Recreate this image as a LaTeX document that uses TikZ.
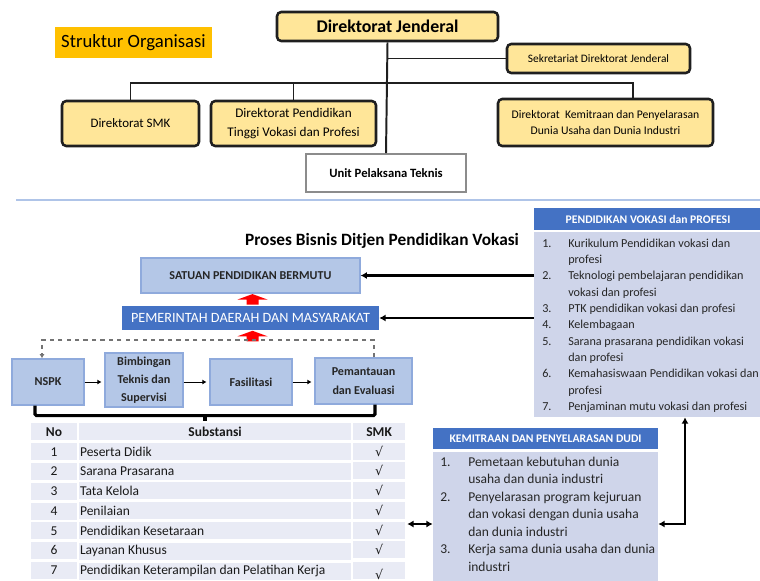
\documentclass[tikz,border=0pt]{standalone}
\usepackage{fontspec}
\setmainfont{Carlito}
\newfontfamily\symfont{DejaVu Sans}
\usetikzlibrary{arrows.meta,calc,matrix}

\definecolor{orgorange}{HTML}{FFC000}
\definecolor{orgyellow}{HTML}{FFE699}
\definecolor{orgline}{HTML}{1F1F1F}
\definecolor{procblue}{HTML}{B4C7E7}
\definecolor{procline}{HTML}{8FAADC}
\definecolor{headblue}{HTML}{4472C4}
\definecolor{panelblue}{HTML}{CFD5EA}
\definecolor{cellblue}{HTML}{E9EBF5}
\definecolor{rulecol}{HTML}{AFC4E8}

\tikzset{
  wh/.style 2 args={minimum width=#1*0.025cm, minimum height=#2*0.025cm},
  orgbox/.style={draw=orgline, line width=1.8pt, rounded corners=3pt, fill=orgyellow,
    inner sep=0pt, align=center},
  orgedge/.style={draw=orgline, line width=1.4pt},
  procbox/.style={draw=procline, line width=0.8pt, fill=procblue, inner sep=0pt,
    align=center, text=black!85, font=\bfseries\fontsize{8.6}{12.8}\selectfont},
  headbox/.style={fill=headblue, inner sep=0pt, text=white},
  panel/.style={fill=panelblue, inner sep=0pt},
  listtext/.style={inner sep=0pt, anchor=north west, text=black!85},
  cell/.style={fill=cellblue, draw=white, line width=1.5pt, outer sep=0pt,
    inner xsep=0.05cm, inner ysep=0pt, minimum height=19.1*0.025cm,
    text=black!90, font=\fontsize{9.6}{11}\selectfont},
  thinarrow/.style={-{Latex[length=3pt,width=3.5pt]}, line width=0.7pt, shorten >=2pt},
  feedarrow/.style={line width=1.5pt},
  loopline/.style={dashed, draw=black!55, line width=0.8pt, -{Latex[length=3pt,width=3.5pt]}},
  bracket/.style={line width=2.2pt, rounded corners=1pt},
  redup/.pic={\fill[red] (-6,5) -- (-6,0) -- (-15,0) -- (0,-5.5) -- (15,0) -- (6,0) -- (6,5) -- cycle;}
}

\begin{document}
\begin{tikzpicture}[x=0.025cm, y=-0.025cm, >={Latex[length=4.5pt,width=5pt]}]
\useasboundingbox (0,0) rectangle (760,580);

\node[fill=orgorange, wh={157}{31}, inner sep=0pt, font=\fontsize{13.3}{15}\selectfont] (struk) at (133.5,42.5) {Struktur Organisasi};
\node[orgbox, wh={221}{29}, font=\bfseries\fontsize{12.7}{14}\selectfont] (dj) at (387.5,26.5) {Direktorat Jenderal};
\node[orgbox, wh={183}{29}, font=\fontsize{8.1}{10}\selectfont] (sekr) at (598.5,58.5) {Sekretariat Direktorat Jenderal};
\node[orgbox, wh={137}{45}, font=\fontsize{9.2}{12}\selectfont] (smk) at (130.5,123.5) {Direktorat SMK};
\node[orgbox, wh={165}{45}, font=\fontsize{9.4}{13}\selectfont] (dptvp) at (293.5,123.5) {Direktorat Pendidikan\\Tinggi Vokasi dan Profesi};
\node[orgbox, wh={215}{47}, font=\fontsize{8.3}{12}\selectfont] (dkp) at (605.5,122.5) {Direktorat\ \ Kemitraan dan Penyelarasan\\Dunia Usaha dan Dunia Industri};
\node[draw=black!45, line width=1.2pt, fill=white, wh={160}{38}, inner sep=0pt, font=\bfseries\fontsize{9}{11}\selectfont] (upt) at (386,173) {Unit Pelaksana Teknis};

\coordinate (barend) at (633,83);
\draw[orgedge] (dj.south) -- (upt.north);
\draw[orgedge] (dj.south |- sekr.west) -- (sekr.west);
\draw[orgedge] (smk.north) |- (barend) -- (barend |- dkp.north);
\draw[orgedge] (dptvp.north) -- (dptvp.north |- barend);

\draw[rulecol, line width=1.5pt] (16,200) -- (760,200);

\node[inner sep=0pt, font=\bfseries\fontsize{12.3}{14}\selectfont] (title) at (382,241) {Proses Bisnis Ditjen Pendidikan Vokasi};
\node[procbox, wh={219}{35}] (spb) at (250.5,275.5) {SATUAN PENDIDIKAN BERMUTU};
\node[headbox, wh={257}{24}, font=\fontsize{10.1}{11}\selectfont] (pdm) at (250.5,318) {PEMERINTAH DAERAH DAN MASYARAKAT};
\pic at ($(spb.south)+(2,6)$) {redup};
\pic at ($(pdm.south)+(2,6)$) {redup};

\node[procbox, wh={72}{46}] (nspk) at (48,382) {NSPK};
\node[procbox, wh={78}{54}] (bts) at (144,380) {Bimbingan\\Teknis dan\\Supervisi};
\node[procbox, wh={82}{46}] (fas) at (251,382) {Fasilitasi};
\node[procbox, wh={97}{46}, font=\bfseries\fontsize{8.6}{13.5}\selectfont] (pev) at (363.5,381) {Pemantauan\\dan Evaluasi};
\draw[thinarrow] (nspk.east) -- (bts.west |- nspk.east);
\draw[thinarrow] (bts.east |- fas.west) -- (fas.west);
\draw[thinarrow] (fas.east) -- (pev.west |- fas.east);

\coordinate (loopc) at (42,340);
\draw[loopline] ($(pev.north)+(10.5,0)$) |- (loopc) -- (loopc |- nspk.north);

\draw[bracket] ($(nspk.south)+(-13,0)$) -- ++(0,10) -| ($(pev.south)+(11.5,0)$);
\draw[bracket] (205,415) -- ++(0,6);

\matrix (tbl) [matrix of nodes, anchor=north west, inner sep=0pt, outer sep=0pt,
  row sep=-1.5pt, column sep=-1.5pt,
  nodes={cell},
  column 1/.style={nodes={minimum width=48*0.025cm}},
  column 2/.style={nodes={minimum width=274*0.025cm, text width=6.75cm, align=left,
    execute at begin node={\spaceskip=0pt\xspaceskip=0pt}}},
  column 3/.style={nodes={minimum width=54*0.025cm}},
  row 1/.style={nodes={font=\bfseries\fontsize{9.6}{11}\selectfont}}]
  at (29,421) {
  No & |[align=center]| Substansi & SMK \\
  1 & Peserta Didik & {\symfont\small √} \\
  2 & Sarana Prasarana & {\symfont\small √} \\
  3 & Tata Kelola & {\symfont\small √} \\
  4 & Penilaian & {\symfont\small √} \\
  5 & Pendidikan Kesetaraan & {\symfont\small √} \\
  6 & Layanan Khusus & {\symfont\small √} \\
  7 & Pendidikan Keterampilan dan Pelatihan Kerja & \raisebox{-3pt}[0.6em][0pt]{\symfont\small √} \\
};

\node[headbox, wh={228}{22}, font=\bfseries\fontsize{8.3}{10}\selectfont] (pvphead) at (648,219) {PENDIDIKAN VOKASI dan PROFESI};
\node[panel, wh={228}{185}] (pvpbody) at (648,324.5) {};
\node[listtext, font=\fontsize{8.65}{11.6}\selectfont] (pvplist) at (542,235.5) {%
\begin{tabular}{@{}p{0.65cm}@{}l@{}}
1. & Kurikulum Pendidikan vokasi dan\\
   & profesi\\
2. & Teknologi pembelajaran pendidikan\\
   & vokasi dan profesi\\
3. & PTK pendidikan vokasi dan profesi\\
4. & Kelembagaan\\
5. & Sarana prasarana pendidikan vokasi\\
   & dan profesi\\
6. & Kemahasiswaan Pendidikan vokasi dan\\
   & profesi\\
7. & Penjaminan mutu vokasi dan profesi
\end{tabular}};

\node[headbox, wh={225}{21}, font=\bfseries\fontsize{8.3}{10}\selectfont] (kpdhead) at (545.5,438.5) {KEMITRAAN DAN PENYELARASAN DUDI};
\node[panel, wh={225}{130}] (kpdbody) at (545.5,517) {};
\node[listtext, font=\fontsize{9.6}{12.4}\selectfont] (kpdlist) at (440,454) {%
\begin{tabular}{@{}p{0.7cm}@{}l@{}}
1. & Pemetaan kebutuhan dunia\\
   & usaha dan dunia industri\\
2. & Penyelarasan program kejuruan\\
   & dan vokasi dengan dunia usaha\\
   & dan dunia industri\\
3. & Kerja sama dunia usaha dan dunia\\
   & industri
\end{tabular}};

\coordinate (linky) at (0,524);
\draw[feedarrow, ->] (spb.east -| pvpbody.west) -- (spb.east);
\draw[feedarrow, ->] (pdm.east -| pvpbody.west) -- (pdm.east);
\draw[feedarrow, <->] (tbl.east |- linky) -- (kpdbody.west |- linky);
\draw[feedarrow, <->] (kpdbody.east |- linky) -| ($(pvpbody.south)+(37,0)$);
\end{tikzpicture}
\end{document}
